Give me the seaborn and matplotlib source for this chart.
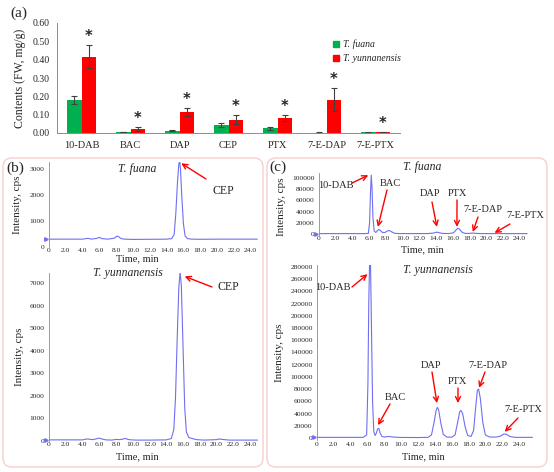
import numpy as np
import pandas as pd
import matplotlib
matplotlib.use("Agg")
import matplotlib.pyplot as plt
from matplotlib.patches import FancyBboxPatch, Patch
from matplotlib.transforms import IdentityTransform
import seaborn as sns

# ---- panel (a): contents ----
compounds = ["10-DAB", "BAC", "DAP", "CEP", "PTX", "7-E-DAP", "7-E-PTX"]
species = ["T. fuana", "T. yunnanensis"]
fuana_vals = [0.180, 0.004, 0.012, 0.043, 0.026, 0.002, 0.003]
fuana_err = [0.022, 0.001, 0.003, 0.010, 0.009, 0.001, 0.001]
yunn_vals = [0.417, 0.022, 0.115, 0.073, 0.083, 0.181, 0.005]
yunn_err = [0.065, 0.010, 0.022, 0.024, 0.015, 0.062, 0.002]

# ---- panel (b): CEP chromatograms ----
b_fu_t = [0.0, 2.0, 4.0, 4.6, 4.8, 5.0, 5.7, 6.0, 6.3, 7.0, 7.8, 8.1, 8.3, 8.6, 9.0,
          10.0, 12.0, 14.0, 14.6, 14.9, 15.1, 15.3, 15.45, 15.55, 15.65, 15.8, 16.0,
          16.2, 16.5, 17.0, 18.0, 20.0, 22.0, 24.0, 24.8]
b_fu_y = [300, 300, 300, 330, 320, 300, 330, 370, 320, 300, 340, 420, 390, 320, 300,
          290, 295, 300, 320, 480, 1300, 2500, 3150, 3300, 3000, 2000, 900,
          420, 320, 300, 295, 300, 300, 300, 300]
b_yu_t = [0.0, 2.0, 4.0, 4.5, 4.8, 5.2, 5.7, 6.0, 6.3, 6.8, 7.5, 8.0, 8.4, 8.8, 9.1,
          9.4, 9.8, 10.5, 12.0, 14.0, 14.6, 14.9, 15.1, 15.3, 15.5, 15.65, 15.8, 16.0,
          16.2, 16.4, 16.7, 17.2, 17.6, 18.5, 20.0, 20.3, 20.7, 21.5, 23.0, 25.0]
b_yu_y = [50, 50, 50, 90, 80, 60, 100, 130, 90, 50, 40, 70, 60, 80, 120,
          70, 50, 40, 40, 50, 110, 500, 1900, 4500, 6800, 7500, 6900, 4200,
          1500, 400, 150, 100, 60, 40, 60, 90, 70, 40, 40, 40]

# ---- panel (c): other taxoids ----
c_fu_t = [0.0, 2.0, 4.0, 5.5, 5.9, 6.05, 6.15, 6.25, 6.35, 6.45, 6.6, 6.8, 7.0, 7.15,
          7.3, 7.6, 7.9, 8.2, 8.4, 8.6, 9.0, 9.5, 11.0, 13.0, 13.7, 14.0, 14.3, 14.7,
          15.5, 16.1, 16.4, 16.6, 16.8, 17.1, 17.5, 18.0, 18.4, 18.8, 19.5, 22.0, 24.0, 24.9]
c_fu_y = [500, 500, 500, 500, 800, 20000, 70000, 105000, 80000, 30000, 5000, 2500, 6000, 8000,
          6500, 2500, 2500, 5500, 6000, 4500, 1200, 600, 500, 600, 1500, 3000, 2500, 900,
          600, 2000, 7000, 10000, 8500, 3000, 800, 900, 1500, 900, 500, 500, 500, 500]
c_yu_t = [0.0, 2.0, 4.0, 5.5, 5.9, 6.05, 6.15, 6.25, 6.35, 6.45, 6.6, 6.75, 6.9, 7.05,
          7.2, 7.35, 7.5, 7.7, 8.0, 8.5, 9.0, 10.0, 12.0, 13.2, 13.6, 13.9, 14.15, 14.3,
          14.45, 14.7, 15.0, 15.4, 16.0, 16.4, 16.7, 16.95, 17.1, 17.3, 17.6, 17.9, 18.3,
          18.6, 18.85, 19.05, 19.2, 19.4, 19.7, 20.0, 20.5, 21.3, 21.8, 22.2, 22.5, 22.9,
          23.5, 25.6]
c_yu_y = [1000, 1000, 1000, 1000, 5000, 90000, 220000, 290000, 290000, 200000, 60000, 10000,
          4000, 8000, 15000, 15500, 8000, 2500, 1500, 2500, 1500, 800, 700, 1000, 5000, 25000,
          45000, 50000, 46000, 25000, 6000, 1500, 1200, 5000, 25000, 43000, 45000, 40000,
          18000, 4000, 2500, 12000, 50000, 78000, 80000, 65000, 25000, 5000, 1500, 1500,
          3000, 6500, 6000, 2500, 1000, 1000]

W, H = 554, 472
GREEN = "#00b050"
RED = "#ff0000"
BLUE = "#6f6ff2"
GREY = "#8c8c8c"

sns.set_style("white")
plt.rcParams["font.family"] = ["Liberation Serif", "DejaVu Serif"]

fig = plt.figure(figsize=(W / 100, H / 100), dpi=100)


def px_axes(left, top, right, bottom):
    return fig.add_axes([left / W, 1 - bottom / H, (right - left) / W, (bottom - top) / H])


def ftext(x, y, s, **kw):
    fig.text(x / W, 1 - y / H, s, ha="center", va="center", **kw)


# ---------------- panel (a) ----------------
ax = px_axes(57, 23, 400, 133)
df = pd.DataFrame({
    "compound": compounds * 2,
    "species": [species[0]] * 7 + [species[1]] * 7,
    "value": fuana_vals + yunn_vals,
})
sns.barplot(data=df, x="compound", y="value", hue="species", order=compounds,
            hue_order=species, palette=[GREEN, RED], width=0.6, errorbar=None,
            saturation=1, ax=ax, legend=False, linewidth=0)
errs = fuana_err + yunn_err
vals = fuana_vals + yunn_vals
bars = ax.patches[:14]
for i, p in enumerate(bars):
    cx = p.get_x() + p.get_width() / 2
    ax.errorbar(cx, vals[i], yerr=errs[i], color="#404040", lw=0.8, capsize=2,
                capthick=0.8)
    if i >= 7:
        ax.text(cx, vals[i] + errs[i] + 0.006, "*", ha="center", va="bottom",
                fontsize=10.5, fontweight="bold", family="DejaVu Sans")
ax.set_xlim(-0.5, 6.5)
ax.set_ylim(0, 0.6)
ax.set_yticks(np.arange(0, 0.61, 0.1))
ax.set_yticklabels([f"{v:.2f}" for v in np.arange(0, 0.61, 0.1)], fontsize=7)
ax.set_xticks(range(7))
ax.set_xticklabels(compounds, fontsize=7.5)
ax.set_xticks(np.arange(-0.5, 7, 1), minor=True)
ax.tick_params(axis="x", which="major", length=0, pad=6)
ax.tick_params(axis="x", which="minor", length=4, width=0.6, color=GREY, direction="out")
ax.tick_params(axis="y", length=3, width=0.6, color=GREY, direction="out", pad=2)
ax.set_xlabel("")
ax.set_ylabel("Contents (FW, mg/g)", fontsize=8.5, labelpad=5)
for s in ["top", "right"]:
    ax.spines[s].set_visible(False)
for s in ["left", "bottom"]:
    ax.spines[s].set_color(GREY)
    ax.spines[s].set_linewidth(0.7)
handles = [Patch(color=GREEN, label=species[0]), Patch(color=RED, label=species[1])]
leg = ax.legend(handles=handles, loc="upper left", bbox_to_anchor=(0.78, 0.93),
                frameon=False, fontsize=7, handlelength=0.6, handleheight=0.6,
                handletextpad=0.4, labelspacing=0.5)
for t in leg.get_texts():
    t.set_style("italic")
ftext(19, 13, "(a)", fontsize=11)

# ---------------- boxes ----------------
for x0, w in [(3, 260), (267, 280)]:
    box = FancyBboxPatch((x0, 5), w, 309, boxstyle="round,pad=0,rounding_size=9",
                         transform=IdentityTransform(), fill=False,
                         ec="#f7cfcf", lw=1.0)
    fig.add_artist(box)
ftext(15, 168, "(b)", fontsize=11)
ftext(278, 167, "(c)", fontsize=11)


def chrom(ax, t, y, xmax, ylim, yticks):
    sns.lineplot(x=t, y=y, ax=ax, color=BLUE, lw=0.8, estimator=None, sort=False)
    ax.plot([-0.3], [y[0]], marker=">", ms=2.5, color=BLUE, clip_on=False)
    ax.set_xlim(0, xmax)
    ax.set_ylim(*ylim)
    xt = np.arange(0, 24.1, 2)
    ax.set_xticks(xt)
    ax.set_xticklabels(["0"] + [f"{v:.1f}" for v in xt[1:]], fontsize=5.4)
    ax.set_yticks(yticks)
    ax.set_yticklabels([str(v) for v in yticks], fontsize=5.4)
    ax.tick_params(axis="x", length=0, pad=1)
    ax.tick_params(axis="y", length=1.5, width=0.5, color=GREY, pad=1.5)
    for s in ["top", "right", "bottom"]:
        ax.spines[s].set_visible(False)
    ax.spines["left"].set_color(GREY)
    ax.spines["left"].set_linewidth(0.6)
    ax.set_xlabel("")
    ax.set_ylabel("")


def arrow(ax, head, tail_px):
    ax.annotate("", xy=head, xycoords="data", xytext=(tail_px[0], H - tail_px[1]),
                textcoords="figure pixels",
                arrowprops=dict(arrowstyle="->", color="red", lw=1.0,
                                shrinkA=0, shrinkB=0, mutation_scale=9),
                annotation_clip=False)


# (b) top
ax = px_axes(49, 162, 259, 247)
chrom(ax, b_fu_t, b_fu_y, 25, (0, 3250), [0, 1000, 2000, 3000])
arrow(ax, (15.75, 3200), (206, 179))
ftext(137, 169, "T. fuana", fontsize=8.5, style="italic")
ftext(223, 191, "CEP", fontsize=8.5)
ftext(18, 205, "Intensity, cps", fontsize=8, rotation=90)
ftext(137, 259, "Time, min", fontsize=7.5)

# (b) bottom
ax = px_axes(49, 273, 258.4, 441)
chrom(ax, b_yu_t, b_yu_y, 25, (0, 7450), list(range(0, 7001, 1000)))
arrow(ax, (16.2, 7300), (212, 287))
ftext(128, 273, "T. yunnanensis", fontsize=8.5, style="italic")
ftext(228, 287, "CEP", fontsize=8.5)
ftext(20, 357, "Intensity, cps", fontsize=8, rotation=90)
ftext(137, 457, "Time, min", fontsize=7.5)

# (c) top
ax = px_axes(319, 173, 528, 235)
chrom(ax, c_fu_t, c_fu_y, 25, (-2000, 109000), list(range(0, 100001, 20000)))
ftext(422, 167, "T. fuana", fontsize=8.5, style="italic")
ftext(282, 207, "Intensity, cps", fontsize=8, rotation=90)
ftext(422, 250, "Time, min", fontsize=7.5)
c_top_labels = [
    ("10-DAB", (336, 186), (5.9, 105000), (352, 183)),
    ("BAC", (390, 183), (7.05, 12500), (387, 190)),
    ("DAP", (430, 193), (14.1, 12500), (432, 202)),
    ("PTX", (457, 193), (16.5, 12500), (457, 200)),
    ("7-E-DAP", (483, 210), (18.4, 3500), (478, 217)),
    ("7-E-PTX", (525, 215), (21.0, 1800), (510, 224)),
]
for lab, pos, head, tail in c_top_labels:
    ftext(pos[0], pos[1], lab, fontsize=7.5)
    arrow(ax, head, tail)

# (c) bottom
ax = px_axes(317, 265, 532.5, 440.4)
chrom(ax, c_yu_t, c_yu_y, 25.6, (-4000, 283000), list(range(0, 280001, 20000)))
ftext(438, 270, "T. yunnanensis", fontsize=8.5, style="italic")
ftext(280, 353, "Intensity, cps", fontsize=8, rotation=90)
ftext(423, 457, "Time, min", fontsize=7.5)
c_bot_labels = [
    ("10-DAB", (333, 288), (6.0, 268000), (352, 287)),
    ("BAC", (395, 398), (7.25, 21000), (390, 404)),
    ("DAP", (431, 365), (14.25, 57000), (432, 372)),
    ("PTX", (457, 381), (16.75, 57000), (458, 388)),
    ("7-E-DAP", (488, 365), (19.25, 82000), (485, 372)),
    ("7-E-PTX", (523, 410), (22.3, 10000), (518, 418)),
]
for lab, pos, head, tail in c_bot_labels:
    ftext(pos[0], pos[1], lab, fontsize=7.5)
    arrow(ax, head, tail)

fig.savefig("out.png", dpi=100)
